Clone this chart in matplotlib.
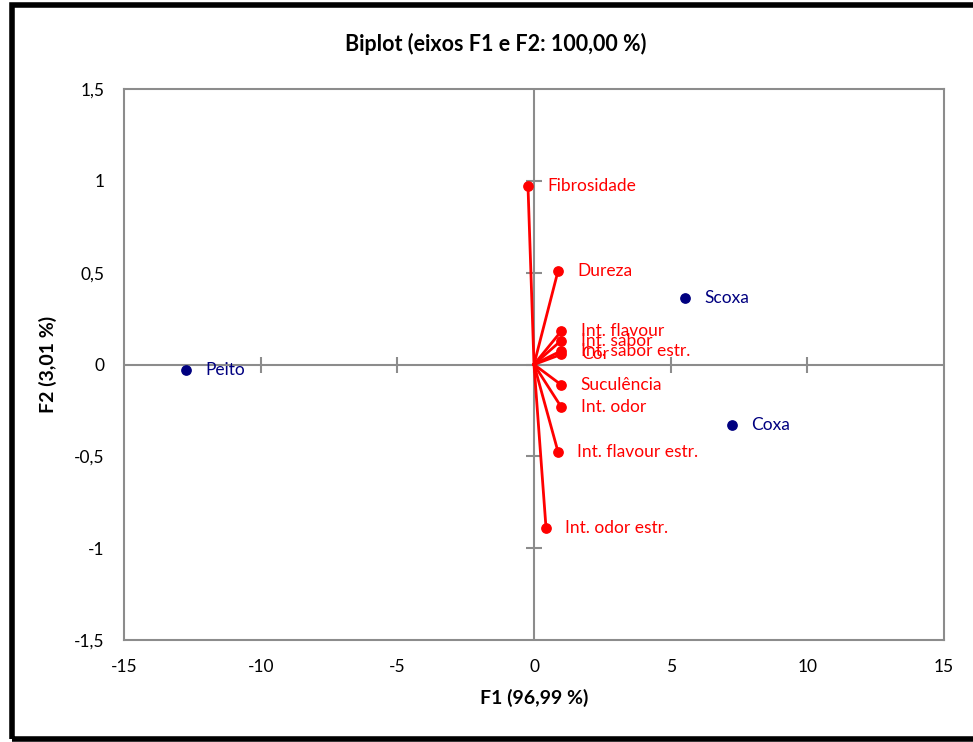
import matplotlib.pyplot as plt
from matplotlib.patches import Rectangle

plt.rcParams['font.family'] = ['Lato', 'DejaVu Sans']
plt.rcParams['axes.unicode_minus'] = False

# variáveis (vetores em vermelho)
var_names = ['Fibrosidade', 'Dureza', 'Int. flavour', 'Int. sabor',
             'Int. sabor estr.', 'Cor', 'Suculência', 'Int. odor',
             'Int. flavour estr.', 'Int. odor estr.']
var_f1 = [-0.22, 0.88, 0.99, 0.99, 1.0, 1.0, 0.99, 0.99, 0.88, 0.44]
var_f2 = [0.97, 0.51, 0.18, 0.13, 0.075, 0.055, -0.11, -0.23, -0.476, -0.89]

# observações (pontos azuis)
obs_names = ['Peito', 'Scoxa', 'Coxa']
obs_f1 = [-12.73, 5.52, 7.24]
obs_f2 = [-0.03, 0.36, -0.33]

xticks = [-15, -10, -5, 0, 5, 10, 15]
yticks = [-1.5, -1, -0.5, 0, 0.5, 1, 1.5]
ytick_labels = ['-1,5', '-1', '-0,5', '0', '0,5', '1', '1,5']

red = '#ff0000'
navy = '#000080'
gray = '#8c8c8c'

fig = plt.figure(figsize=(9.73, 7.42), dpi=100)
ax = fig.add_axes([124 / 973, 1 - 640 / 742, 820 / 973, 551 / 742])

# eixos centrais com marcas
ax.axhline(0, color=gray, lw=1.5, zorder=1)
ax.axvline(0, color=gray, lw=1.5, zorder=1)
ax.plot(xticks[1:-1], [0] * 5, ls='none', marker='|', ms=12, mew=1.5,
        color=gray, zorder=1)
ax.plot([0] * 5, yticks[1:-1], ls='none', marker='_', ms=12, mew=1.5,
        color=gray, zorder=1)

# vetores
for name, x, y in zip(var_names, var_f1, var_f2):
    ax.plot([0, x], [0, y], color=red, lw=2, zorder=2)
ax.scatter(var_f1, var_f2, color=red, s=45, zorder=3)
for name, x, y in zip(var_names, var_f1, var_f2):
    ax.annotate(name, (x, y), xytext=(14, 0), textcoords='offset points',
                va='center', ha='left', color=red, fontsize=12.5)

# observações
ax.scatter(obs_f1, obs_f2, color=navy, s=45, zorder=3)
for name, x, y in zip(obs_names, obs_f1, obs_f2):
    ax.annotate(name, (x, y), xytext=(14, 0), textcoords='offset points',
                va='center', ha='left', color=navy, fontsize=12.5)

ax.set_xlim(-15, 15)
ax.set_ylim(-1.5, 1.5)
ax.set_xticks(xticks)
ax.set_yticks(yticks)
ax.set_yticklabels(ytick_labels)
ax.tick_params(length=0, labelsize=12.5, pad=14)
for s in ax.spines.values():
    s.set_color(gray)
    s.set_linewidth(1.5)

ax.set_xlabel('F1 (96,99 %)', fontsize=14, fontweight='bold', labelpad=10)
ax.set_ylabel('F2 (3,01 %)', fontsize=14, fontweight='bold', labelpad=12)
fig.text(496 / 973, 1 - 44 / 742, 'Biplot (eixos F1 e F2: 100,00 %)',
         ha='center', va='center', fontsize=15.5, fontweight='bold')

# moldura preta
fig.patches.append(Rectangle((12 / 973, 3 / 742), 1.0, 1 - 8 / 742,
                             transform=fig.transFigure, fill=False,
                             edgecolor='black', lw=4, clip_on=False))

fig.savefig('out.png', dpi=100)
